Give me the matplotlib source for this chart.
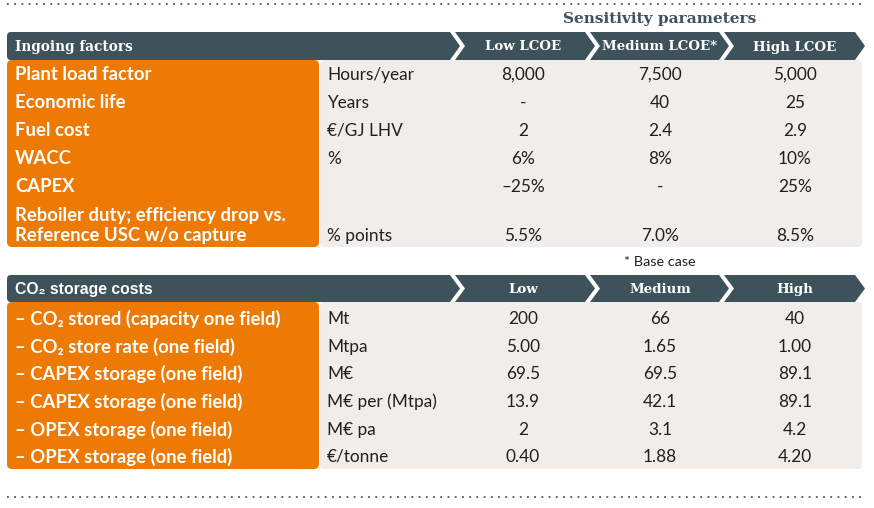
import matplotlib.pyplot as plt
from matplotlib.patches import FancyBboxPatch, Polygon

# table content
ingoing_labels = ["Plant load factor", "Economic life", "Fuel cost", "WACC", "CAPEX",
                  "Reboiler duty; efficiency drop vs.\nReference USC w/o capture"]
ingoing_units = ["Hours/year", "Years", "€/GJ LHV", "%", "", "% points"]
ingoing_low = ["8,000", "-", "2", "6%", "\u201325%", "5.5%"]
ingoing_med = ["7,500", "40", "2.4", "8%", "-", "7.0%"]
ingoing_high = ["5,000", "25", "2.9", "10%", "25%", "8.5%"]
ingoing_heads = ["Low LCOE", "Medium LCOE*", "High LCOE"]

storage_labels = ["\u2013 CO\u2082 stored (capacity one field)", "\u2013 CO\u2082 store rate (one field)",
                  "\u2013 CAPEX storage (one field)", "\u2013 CAPEX storage (one field)",
                  "\u2013 OPEX storage (one field)", "\u2013 OPEX storage (one field)"]
storage_units = ["Mt", "Mtpa", "M€", "M€ per (Mtpa)", "M€ pa", "€/tonne"]
storage_low = ["200", "5.00", "69.5", "13.9", "2", "0.40"]
storage_med = ["66", "1.65", "69.5", "42.1", "3.1", "1.88"]
storage_high = ["40", "1.00", "89.1", "89.1", "4.2", "4.20"]
storage_heads = ["Low", "Medium", "High"]

ORANGE = "#ec7a05"
SLATE = "#3d525a"
GREY = "#f1edea"
TXT = "#231f20"
BODY = ["Lato", "DejaVu Sans"]
HEAD = ["DejaVu Serif"]
SANSB = ["Liberation Sans", "DejaVu Sans"]

fig = plt.figure(figsize=(8.74, 5.08), dpi=100)
ax = fig.add_axes([0, 0, 1, 1])
ax.set_xlim(0, 874)
ax.set_ylim(508, 0)
ax.axis("off")

col_x = [523, 660, 795]
segs = [(455, 585), (590, 719), (724, 855)]
tip = 10


def header_bar(y0, y1, title, heads, title_font, title_size):
    ym = (y0 + y1) / 2
    ax.add_patch(FancyBboxPatch((7, y0), 436, y1 - y0, boxstyle="round,pad=0,rounding_size=4",
                                fc=SLATE, ec="none"))
    ax.add_patch(Polygon([(430, y0), (450, y0), (450 + tip, ym), (450, y1), (430, y1)],
                         closed=True, fc=SLATE, ec="none"))
    for (a, b) in segs:
        ax.add_patch(Polygon([(a, y0), (b, y0), (b + tip, ym), (b, y1), (a, y1), (a + tip, ym)],
                             closed=True, fc=SLATE, ec="none"))
    ax.text(15, ym + 1, title, color="white", fontsize=title_size, fontweight="bold",
            family=title_font, va="center", ha="left")
    for x, h in zip(col_x, heads):
        ax.text(x, ym + 1, h, color="white", fontsize=9.6, fontweight="bold",
                family=HEAD, va="center", ha="center")


def body(y0, y1, rows_y, labels, units, low, med, high):
    ax.add_patch(FancyBboxPatch((7, y0), 312, y1 - y0, boxstyle="round,pad=0,rounding_size=5",
                                fc=ORANGE, ec="none"))
    ax.add_patch(FancyBboxPatch((320, y0), 542, y1 - y0, boxstyle="round,pad=0,rounding_size=5",
                                fc=GREY, ec="none"))
    for i, y in enumerate(rows_y):
        lab = labels[i]
        if "\n" in lab:
            l1, l2 = lab.split("\n")
            ax.text(15, y - 21, l1, color="white", fontsize=13.3, fontweight="bold",
                    family=BODY, va="center")
            ax.text(15, y, l2, color="white", fontsize=13.3, fontweight="bold",
                    family=BODY, va="center")
        else:
            ax.text(15, y, lab, color="white", fontsize=13.3, fontweight="bold",
                    family=BODY, va="center")
        ax.text(327, y, units[i], color=TXT, fontsize=12.4, family=BODY, va="center")
        for x, v in zip(col_x, (low[i], med[i], high[i])):
            ax.text(x, y, v, color=TXT, fontsize=12.4, family=BODY, va="center", ha="center")


# dotted rules
ax.plot([7, 866], [4, 4], ls=(0, (1, 3)), color="#555555", lw=1.3)
ax.plot([7, 866], [497, 497], ls=(0, (1, 3)), color="#555555", lw=1.3)

ax.text(660, 19, "Sensitivity parameters", color=SLATE, fontsize=11.1, fontweight="bold",
        family=HEAD, ha="center", va="center")

header_bar(32, 60, "Ingoing factors", ingoing_heads, HEAD, 9.8)
body(60, 247, [75, 103, 131, 159, 187, 236], ingoing_labels, ingoing_units,
     ingoing_low, ingoing_med, ingoing_high)

ax.text(660, 262, "* Base case", color=TXT, fontsize=10.4, family=BODY, ha="center", va="center")

header_bar(275, 302, "CO\u2082 storage costs", storage_heads, SANSB, 11.3)
body(302, 469, [319, 347, 374, 402, 430, 457], storage_labels, storage_units,
     storage_low, storage_med, storage_high)

fig.savefig("out.png", dpi=100)
